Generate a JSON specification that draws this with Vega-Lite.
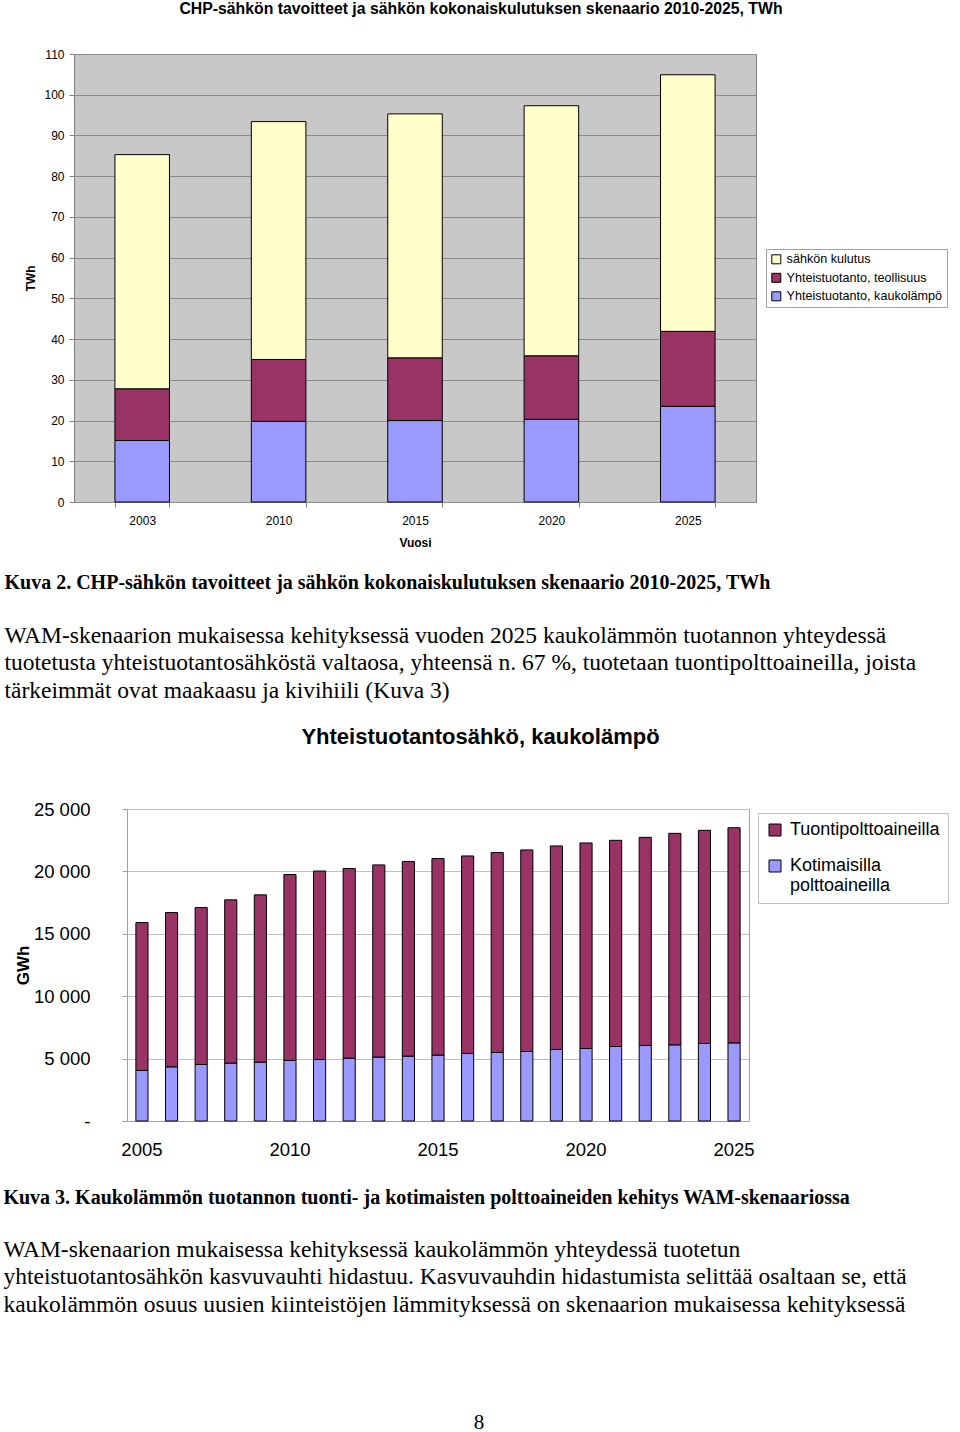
{
  "$schema": "https://vega.github.io/schema/vega-lite/v6.json",
  "padding": {"left": 3, "top": 0, "right": 0, "bottom": 0},
  "background": "white",
  "columns": 1,
  "spacing": 24,
  "resolve": {"scale": {"color": "independent"}, "legend": {"color": "independent"}},
  "config": {
    "font": "Liberation Sans",
    "axis": {"labelColor": "black", "titleColor": "black", "labelFont": "Liberation Sans", "titleFont": "Liberation Sans"},
    "legend": {"labelColor": "black", "labelFont": "Liberation Sans"}
  },
  "datasets": {
    "chp": [
      {"year": "2003", "series": "Yhteistuotanto, kaukolämpö", "twh": 15.1},
      {"year": "2003", "series": "Yhteistuotanto, teollisuus", "twh": 12.7},
      {"year": "2003", "series": "sähkön kulutus", "twh": 57.5},
      {"year": "2010", "series": "Yhteistuotanto, kaukolämpö", "twh": 19.8},
      {"year": "2010", "series": "Yhteistuotanto, teollisuus", "twh": 15.2},
      {"year": "2010", "series": "sähkön kulutus", "twh": 58.4},
      {"year": "2015", "series": "Yhteistuotanto, kaukolämpö", "twh": 20.0},
      {"year": "2015", "series": "Yhteistuotanto, teollisuus", "twh": 15.4},
      {"year": "2015", "series": "sähkön kulutus", "twh": 59.9},
      {"year": "2020", "series": "Yhteistuotanto, kaukolämpö", "twh": 20.3},
      {"year": "2020", "series": "Yhteistuotanto, teollisuus", "twh": 15.6},
      {"year": "2020", "series": "sähkön kulutus", "twh": 61.4},
      {"year": "2025", "series": "Yhteistuotanto, kaukolämpö", "twh": 23.5},
      {"year": "2025", "series": "Yhteistuotanto, teollisuus", "twh": 18.4},
      {"year": "2025", "series": "sähkön kulutus", "twh": 63.0}
    ],
    "kl": [
      {"year": "2005", "fuel": "Kotimaisilla polttoaineilla", "gwh": 4050},
      {"year": "2005", "fuel": "Tuontipolttoaineilla", "gwh": 11850},
      {"year": "2006", "fuel": "Kotimaisilla polttoaineilla", "gwh": 4340},
      {"year": "2006", "fuel": "Tuontipolttoaineilla", "gwh": 12360},
      {"year": "2007", "fuel": "Kotimaisilla polttoaineilla", "gwh": 4530},
      {"year": "2007", "fuel": "Tuontipolttoaineilla", "gwh": 12570},
      {"year": "2008", "fuel": "Kotimaisilla polttoaineilla", "gwh": 4640},
      {"year": "2008", "fuel": "Tuontipolttoaineilla", "gwh": 13080},
      {"year": "2009", "fuel": "Kotimaisilla polttoaineilla", "gwh": 4720},
      {"year": "2009", "fuel": "Tuontipolttoaineilla", "gwh": 13400},
      {"year": "2010", "fuel": "Kotimaisilla polttoaineilla", "gwh": 4850},
      {"year": "2010", "fuel": "Tuontipolttoaineilla", "gwh": 14900},
      {"year": "2011", "fuel": "Kotimaisilla polttoaineilla", "gwh": 4930},
      {"year": "2011", "fuel": "Tuontipolttoaineilla", "gwh": 15100},
      {"year": "2012", "fuel": "Kotimaisilla polttoaineilla", "gwh": 5040},
      {"year": "2012", "fuel": "Tuontipolttoaineilla", "gwh": 15190},
      {"year": "2013", "fuel": "Kotimaisilla polttoaineilla", "gwh": 5120},
      {"year": "2013", "fuel": "Tuontipolttoaineilla", "gwh": 15400},
      {"year": "2014", "fuel": "Kotimaisilla polttoaineilla", "gwh": 5200},
      {"year": "2014", "fuel": "Tuontipolttoaineilla", "gwh": 15590},
      {"year": "2015", "fuel": "Kotimaisilla polttoaineilla", "gwh": 5280},
      {"year": "2015", "fuel": "Tuontipolttoaineilla", "gwh": 15750},
      {"year": "2016", "fuel": "Kotimaisilla polttoaineilla", "gwh": 5410},
      {"year": "2016", "fuel": "Tuontipolttoaineilla", "gwh": 15830},
      {"year": "2017", "fuel": "Kotimaisilla polttoaineilla", "gwh": 5490},
      {"year": "2017", "fuel": "Tuontipolttoaineilla", "gwh": 16020},
      {"year": "2018", "fuel": "Kotimaisilla polttoaineilla", "gwh": 5570},
      {"year": "2018", "fuel": "Tuontipolttoaineilla", "gwh": 16150},
      {"year": "2019", "fuel": "Kotimaisilla polttoaineilla", "gwh": 5730},
      {"year": "2019", "fuel": "Tuontipolttoaineilla", "gwh": 16310},
      {"year": "2020", "fuel": "Kotimaisilla polttoaineilla", "gwh": 5810},
      {"year": "2020", "fuel": "Tuontipolttoaineilla", "gwh": 16470},
      {"year": "2021", "fuel": "Kotimaisilla polttoaineilla", "gwh": 5970},
      {"year": "2021", "fuel": "Tuontipolttoaineilla", "gwh": 16520},
      {"year": "2022", "fuel": "Kotimaisilla polttoaineilla", "gwh": 6050},
      {"year": "2022", "fuel": "Tuontipolttoaineilla", "gwh": 16680},
      {"year": "2023", "fuel": "Kotimaisilla polttoaineilla", "gwh": 6100},
      {"year": "2023", "fuel": "Tuontipolttoaineilla", "gwh": 16950},
      {"year": "2024", "fuel": "Kotimaisilla polttoaineilla", "gwh": 6210},
      {"year": "2024", "fuel": "Tuontipolttoaineilla", "gwh": 17080},
      {"year": "2025", "fuel": "Kotimaisilla polttoaineilla", "gwh": 6260},
      {"year": "2025", "fuel": "Tuontipolttoaineilla", "gwh": 17240}
    ]
  },
  "title": {"text": "8", "orient": "bottom", "anchor": "middle", "frame": "bounds", "dx": 3, "offset": 96, "font": "Liberation Serif", "fontSize": 21, "fontWeight": "normal", "color": "black"},
  "concat": [
    {
      "title": {
        "text": "Kuva 2. CHP-sähkön tavoitteet ja sähkön kokonaiskulutuksen skenaario 2010-2025, TWh",
        "subtitle": [
          "WAM-skenaarion mukaisessa kehityksessä vuoden 2025 kaukolämmön tuotannon yhteydessä",
          "tuotetusta yhteistuotantosähköstä valtaosa, yhteensä n. 67 %, tuotetaan tuontipolttoaineilla, joista",
          "tärkeimmät ovat maakaasu ja kivihiili (Kuva 3)"
        ],
        "orient": "bottom", "anchor": "start", "frame": "bounds", "dx": -20, "offset": 24,
        "font": "Liberation Serif", "fontSize": 20, "fontWeight": "bold", "color": "black",
        "subtitleFont": "Liberation Serif", "subtitleFontSize": 23.5, "subtitleFontWeight": "normal",
        "subtitleColor": "black", "subtitleLineHeight": 27.5, "subtitlePadding": 31, "limit": 0
      },
      "vconcat": [
        {
          "data": {"name": "chp"},
          "width": 682,
          "height": 448,
          "view": {"fill": "#c8c8c8", "stroke": "#808080", "strokeWidth": 1},
          "title": {"text": "CHP-sähkön tavoitteet ja sähkön kokonaiskulutuksen skenaario 2010-2025, TWh", "anchor": "middle", "frame": "group", "dx": 66, "offset": 30, "font": "Liberation Sans", "fontSize": 15.8, "fontWeight": "bold", "color": "black"},
          "mark": {"type": "bar", "stroke": "black", "strokeWidth": 1},
          "encoding": {
            "x": {"field": "year", "type": "nominal", "scale": {"paddingInner": 0.6, "paddingOuter": 0.3},
              "axis": {"title": "Vuosi", "labelAngle": 0, "labelFontSize": 12, "titleFontSize": 12, "titleFontWeight": "bold", "tickBand": "extent", "tickSize": 5, "tickColor": "#808080", "domain": false, "labelPadding": 8, "titlePadding": 11}},
            "y": {"field": "twh", "type": "quantitative", "stack": "zero", "scale": {"domain": [0, 110], "nice": false},
              "axis": {"title": "TWh", "values": [0, 10, 20, 30, 40, 50, 60, 70, 80, 90, 100, 110], "labelFontSize": 12, "titleFontSize": 12, "titleFontWeight": "bold", "tickSize": 5, "tickColor": "#808080", "domain": false, "gridColor": "#8c8c8c", "gridOpacity": 1, "labelPadding": 5, "titlePadding": 6}},
            "color": {"field": "series", "type": "nominal",
              "scale": {"domain": ["sähkön kulutus", "Yhteistuotanto, teollisuus", "Yhteistuotanto, kaukolämpö"], "range": ["#ffffcc", "#993366", "#9999ff"]},
              "legend": {"title": null, "orient": "none", "legendX": 692, "legendY": 195, "fillColor": "white", "strokeColor": "#a0a0a0", "padding": 4, "symbolType": "square", "symbolSize": 81, "symbolStrokeColor": "black", "symbolStrokeWidth": 1, "labelFontSize": 12.6, "labelOffset": 4, "rowPadding": 4.5, "labelLimit": 0}},
            "order": {"field": "series", "sort": "ascending"}
          }
        }
      ]
    },
    {
      "title": {
        "text": "Kuva 3. Kaukolämmön tuotannon tuonti- ja kotimaisten polttoaineiden kehitys WAM-skenaariossa",
        "subtitle": [
          "WAM-skenaarion mukaisessa kehityksessä kaukolämmön yhteydessä tuotetun",
          "yhteistuotantosähkön kasvuvauhti hidastuu. Kasvuvauhdin hidastumista selittää osaltaan se, että",
          "kaukolämmön osuus uusien kiinteistöjen lämmityksessä on skenaarion mukaisessa kehityksessä"
        ],
        "orient": "bottom", "anchor": "start", "frame": "bounds", "dx": -11, "offset": 29,
        "font": "Liberation Serif", "fontSize": 20, "fontWeight": "bold", "color": "black",
        "subtitleFont": "Liberation Serif", "subtitleFontSize": 23.5, "subtitleFontWeight": "normal",
        "subtitleColor": "black", "subtitleLineHeight": 27.5, "subtitlePadding": 30, "limit": 0
      },
      "vconcat": [
        {
          "data": {"name": "kl"},
          "width": 675,
          "height": 312,
          "view": {"fill": "white", "stroke": null},
          "title": {"text": "Yhteistuotantosähkö, kaukolämpö", "anchor": "middle", "frame": "group", "dx": 69, "offset": 51, "font": "Liberation Sans", "fontSize": 22, "fontWeight": "bold", "color": "black"},
          "encoding": {
            "x": {"field": "year", "type": "ordinal", "scale": {"range": [53, 675], "paddingInner": 0.59, "paddingOuter": 0.3},
              "axis": {"title": null, "values": ["2005", "2010", "2015", "2020", "2025"], "labelAngle": 0, "labelFontSize": 18.5, "ticks": false, "tickSize": 0, "domain": true, "domainColor": "#a0a0a0", "labelPadding": 19}}
          },
          "layer": [
            {
              "mark": {"type": "bar", "stroke": "black", "strokeWidth": 1},
              "encoding": {
                "y": {"field": "gwh", "type": "quantitative", "stack": "zero", "scale": {"domain": [0, 25000], "nice": false},
                  "axis": {"title": "GWh", "offset": -53, "values": [0, 5000, 10000, 15000, 20000, 25000], "labelExpr": "datum.value == 0 ? '-' : replace(format(datum.value, ','), ',', ' ')", "labelFontSize": 18.5, "titleFontSize": 17, "titleFontWeight": "bold", "tickSize": 5, "tickColor": "#a0a0a0", "domain": true, "domainColor": "#a0a0a0", "gridColor": "#c0c0c0", "gridOpacity": 1, "labelPadding": 32, "titlePadding": 1}},
                "color": {"field": "fuel", "type": "nominal",
                  "scale": {"domain": ["Tuontipolttoaineilla", "Kotimaisilla polttoaineilla"], "range": ["#993366", "#9999ff"]},
                  "legend": {"title": null, "orient": "none", "legendX": 684, "legendY": 4, "fillColor": "white", "strokeColor": "#c0c0c0", "padding": 8, "symbolType": "square", "symbolSize": 144, "symbolStrokeColor": "black", "symbolStrokeWidth": 1, "labelFontSize": 18, "labelOffset": 6, "rowPadding": 18, "labelLimit": 0,
                    "labelExpr": "datum.label == 'Kotimaisilla polttoaineilla' ? ['Kotimaisilla', 'polttoaineilla'] : datum.label"}},
                "order": {"field": "fuel", "sort": "ascending"}
              }
            },
            {
              "mark": {"type": "bar", "opacity": 0},
              "encoding": {
                "y": {"field": "gwh", "type": "quantitative", "stack": "zero",
                  "axis": {"orient": "right", "title": null, "labels": false, "ticks": false, "grid": false, "domain": true, "domainColor": "#a0a0a0"}}
              }
            }
          ],
          "resolve": {"axis": {"y": "independent"}}
        }
      ]
    }
  ]
}
